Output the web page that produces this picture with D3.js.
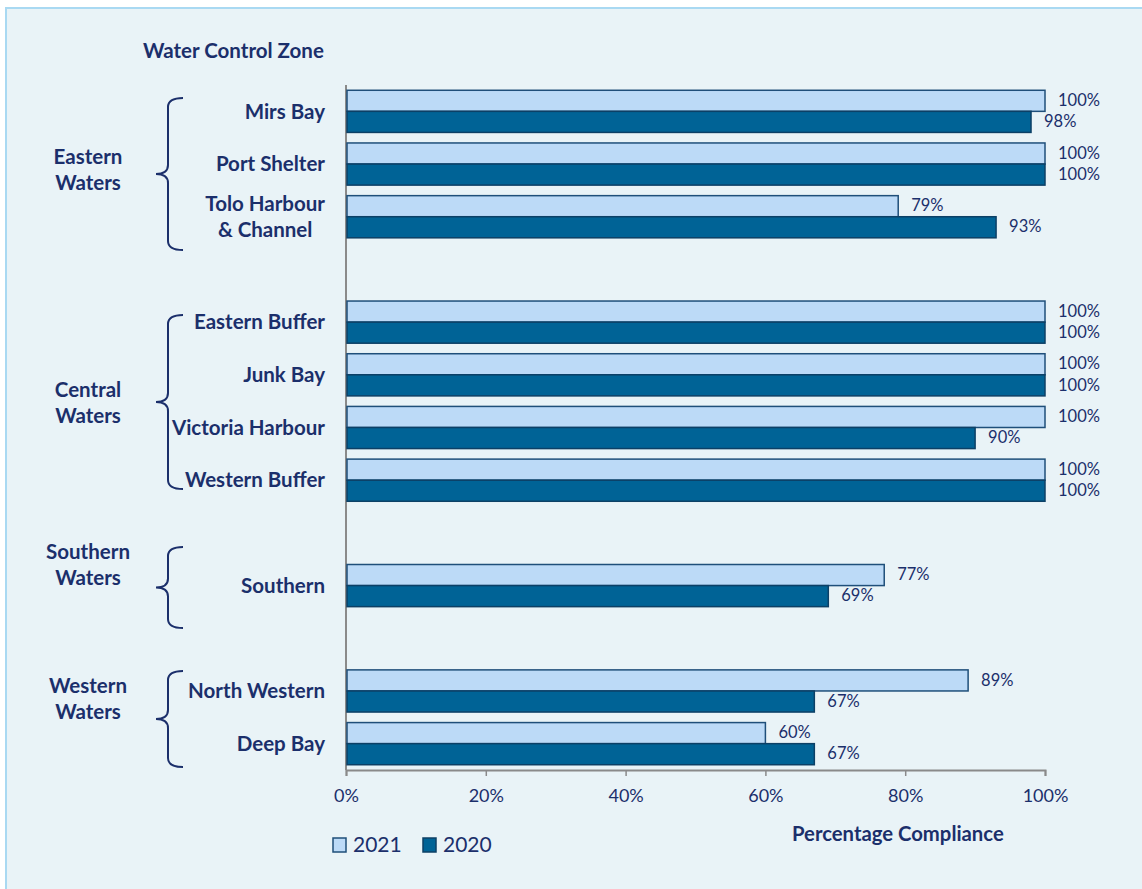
<!DOCTYPE html>
<html>
<head>
<meta charset="utf-8">
<script src="https://cdn.jsdelivr.net/npm/d3@7"></script>
<style>
  html, body { margin: 0; padding: 0; background: #fff; }
  svg { display: block; font-family: Lato, "Open Sans", sans-serif; }
</style>
</head>
<body>
<div id="chart"></div>
<script>
// data
var categories = ["Mirs Bay", "Port Shelter", "Tolo Harbour\n& Channel",
                  "Eastern Buffer", "Junk Bay", "Victoria Harbour", "Western Buffer",
                  "Southern",
                  "North Western", "Deep Bay"];
var values2021 = [100, 100, 79, 100, 100, 100, 100, 77, 89, 60];
var values2020 = [98, 100, 93, 100, 100, 90, 100, 69, 67, 67];
var seriesNames = ["2021", "2020"];
var groupNames = ["Eastern\nWaters", "Central\nWaters", "Southern\nWaters", "Western\nWaters"];
var groupMembers = [3, 4, 1, 2];
var tickValues = [0, 20, 40, 60, 80, 100];

var W = 1142, H = 889;
var textColor = "#1b2f6b";
var fills = {"2021": "#bcdaf7", "2020": "#006396"};
var strokes = {"2021": "#1f4f7a", "2020": "#0c4066"};

var svg = d3.select("#chart").append("svg")
    .attr("width", W)
    .attr("height", H);

// panel background
svg.append("rect")
    .attr("x", 6).attr("y", 8)
    .attr("width", W).attr("height", H)
    .attr("fill", "#e9f3f7")
    .attr("stroke", "#a9d9f2")
    .attr("stroke-width", 2);

// rows, with an empty row between groups
var rows = [];
var start = 0;
groupMembers.forEach(function(n, i) {
    if (i > 0) rows.push("gap" + i);
    categories.slice(start, start + n).forEach(function(c) { rows.push(c); });
    start += n;
});

var data = categories.map(function(c, i) {
    return {name: c, "2021": values2021[i], "2020": values2020[i]};
});

// scales
var x = d3.scaleLinear()
    .domain([0, 100])
    .range([346, 1045]);

var y = d3.scaleBand()
    .domain(rows)
    .range([85, 770])
    .paddingInner(0.2)
    .paddingOuter(0.1);

var ySub = d3.scaleBand()
    .domain(seriesNames)
    .range([0, y.bandwidth()]);

// X axis
var xAxis = svg.append("g")
    .attr("transform", "translate(0,770)")
    .call(d3.axisBottom(x)
        .tickValues(tickValues)
        .tickSize(6)
        .tickPadding(13)
        .tickFormat(function(d) { return d + "%"; }));
xAxis.select(".domain").attr("stroke", "#8a8a8a").attr("stroke-width", 2);
xAxis.selectAll(".tick line").attr("stroke", "#8a8a8a").attr("stroke-width", 1.5);
xAxis.selectAll(".tick text")
    .attr("fill", textColor)
    .style("font-size", "18px")
    .style("font-family", "Lato, sans-serif");

// Y axis line
svg.append("line")
    .attr("x1", x(0)).attr("x2", x(0))
    .attr("y1", 85).attr("y2", 770)
    .attr("stroke", "#8a8a8a")
    .attr("stroke-width", 2);

// bars
var row = svg.selectAll(".row")
    .data(data)
    .enter().append("g")
    .attr("class", "row")
    .attr("transform", function(d) { return "translate(0," + y(d.name) + ")"; });

seriesNames.forEach(function(s) {
    row.append("rect")
        .attr("x", x(0) + 1)
        .attr("y", ySub(s))
        .attr("width", function(d) { return x(d[s]) - x(0) - 1; })
        .attr("height", ySub.bandwidth())
        .attr("fill", fills[s])
        .attr("stroke", strokes[s])
        .attr("stroke-width", 1.5);

    row.append("text")
        .attr("x", function(d) { return x(d[s]) + 13; })
        .attr("y", ySub(s) + ySub.bandwidth() / 2 + 1)
        .attr("dominant-baseline", "middle")
        .attr("fill", textColor)
        .style("font-size", "16.5px")
        .text(function(d) { return d[s] + "%"; });
});

// category labels (multi-line ones are centred)
row.each(function(d) {
    var lines = d.name.split("\n");
    var t = d3.select(this).append("text")
        .attr("fill", textColor)
        .attr("text-anchor", "end")
        .style("font-size", "20.5px")
        .style("font-weight", "bold");
    var spans = lines.map(function(l, i) {
        return t.append("tspan")
            .attr("x", 325)
            .attr("y", y.bandwidth() / 2 + (i - (lines.length - 1) / 2) * 26)
            .attr("dy", "0.35em")
            .text(l);
    });
    var widths = spans.map(function(sp) { return sp.node().getComputedTextLength(); });
    var maxW = d3.max(widths);
    spans.forEach(function(sp, i) { sp.attr("x", 325 - (maxW - widths[i]) / 2); });
});

// braces and group labels
var braceTop = [98, 315, 547, 671];
var braceBottom = [250, 489, 628, 767];
var groupLabelY = [170, 403, 565, 699];

function bracePath(top, bottom) {
    var mid = (top + bottom) / 2, tip = 156, v = 168, e = 183, r = 9;
    return "M" + e + "," + top +
        " Q" + v + "," + top + " " + v + "," + (top + r) +
        " L" + v + "," + (mid - r) +
        " Q" + v + "," + mid + " " + tip + "," + mid +
        " Q" + v + "," + mid + " " + v + "," + (mid + r) +
        " L" + v + "," + (bottom - r) +
        " Q" + v + "," + bottom + " " + e + "," + bottom;
}

groupNames.forEach(function(g, i) {
    svg.append("path")
        .attr("d", bracePath(braceTop[i], braceBottom[i]))
        .attr("fill", "none")
        .attr("stroke", textColor)
        .attr("stroke-width", 2);

    var lines = g.split("\n");
    var t = svg.append("text")
        .attr("fill", textColor)
        .attr("text-anchor", "middle")
        .style("font-size", "20.5px")
        .style("font-weight", "bold");
    lines.forEach(function(l, j) {
        t.append("tspan")
            .attr("x", 88)
            .attr("y", groupLabelY[i] + (j - (lines.length - 1) / 2) * 26.5)
            .attr("dy", "0.35em")
            .text(l);
    });
});

// titles
svg.append("text")
    .attr("x", 143).attr("y", 51)
    .attr("dy", "0.35em")
    .attr("fill", textColor)
    .style("font-size", "20.5px")
    .style("font-weight", "bold")
    .text("Water Control Zone");

svg.append("text")
    .attr("x", 792).attr("y", 834)
    .attr("dy", "0.35em")
    .attr("fill", textColor)
    .style("font-size", "20.3px")
    .style("font-weight", "bold")
    .text("Percentage Compliance");

// legend
var legend = svg.selectAll(".legend")
    .data(seriesNames)
    .enter().append("g")
    .attr("class", "legend")
    .attr("transform", function(d, i) { return "translate(" + (333 + i * 90) + ",838)"; });

legend.append("rect")
    .attr("width", 13).attr("height", 14)
    .attr("fill", function(d) { return fills[d]; })
    .attr("stroke", function(d) { return strokes[d]; })
    .attr("stroke-width", 1.5);

legend.append("text")
    .attr("x", 20).attr("y", 7)
    .attr("dy", "0.35em")
    .attr("fill", textColor)
    .style("font-size", "21px")
    .text(function(d) { return d; });
</script>
</body>
</html>
